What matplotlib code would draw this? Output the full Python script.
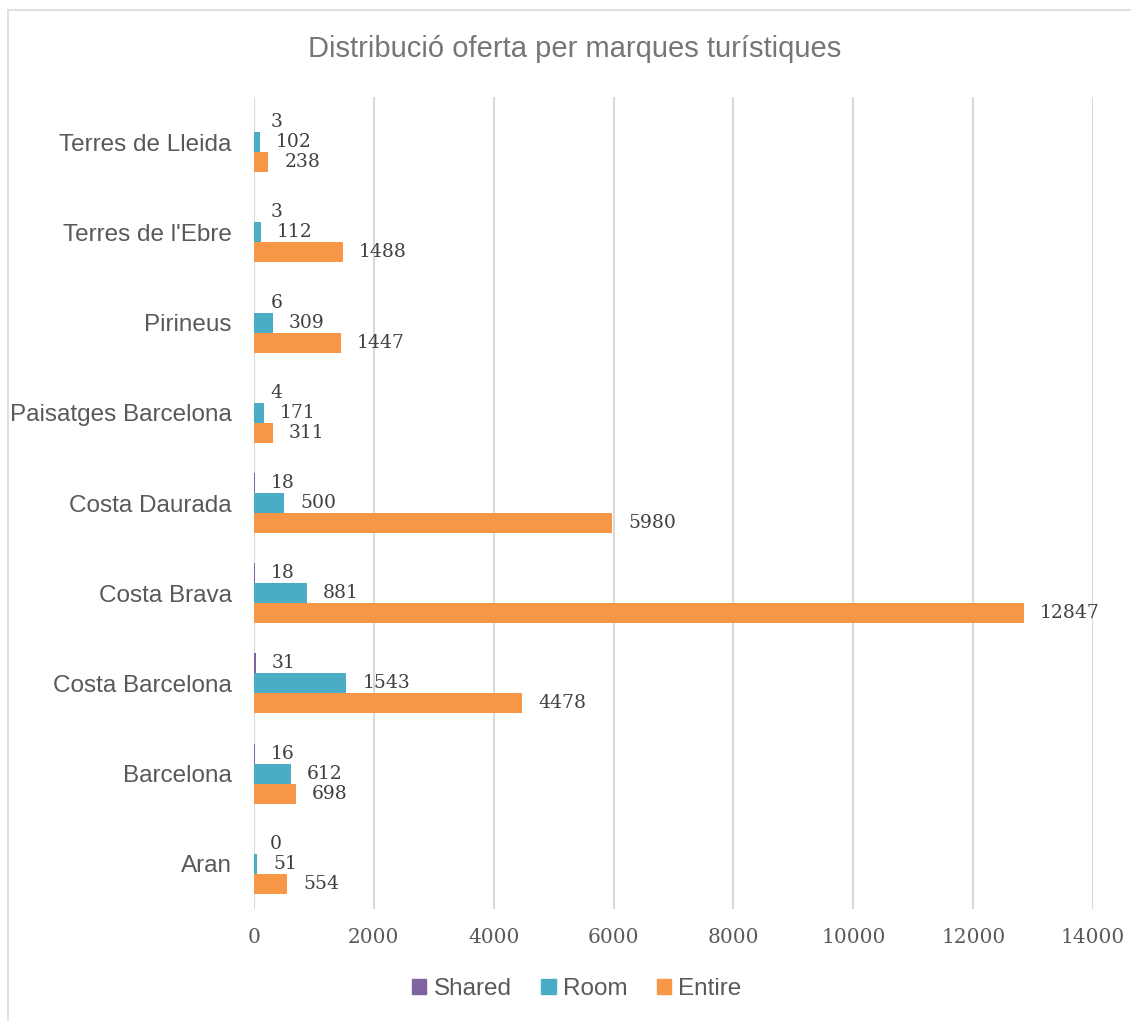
import matplotlib.pyplot as plt
import numpy as np
from matplotlib.lines import Line2D
from matplotlib.patches import Patch

cats = ["Aran", "Barcelona", "Costa Barcelona", "Costa Brava", "Costa Daurada",
        "Paisatges Barcelona", "Pirineus", "Terres de l'Ebre", "Terres de Lleida"]
shared = [0, 16, 31, 18, 18, 4, 6, 3, 3]
room = [51, 612, 1543, 881, 500, 171, 309, 112, 102]
entire = [554, 698, 4478, 12847, 5980, 311, 1447, 1488, 238]

c_shared = "#8064A2"
c_room = "#4BACC6"
c_entire = "#F79646"

fig = plt.figure(figsize=(11.31, 10.21), dpi=100)
ax = fig.add_axes([254/1131, 1-909/1021, (1093-254)/1131, (909-97)/1021])

y = np.arange(len(cats))
h = 0.222
series = [(shared, c_shared, h), (room, c_room, 0), (entire, c_entire, -h)]
for vals, col, off in series:
    bars = ax.barh(y + off, vals, height=h, color=col, zorder=3)
    for b, v in zip(bars, vals):
        ax.annotate(str(v), (b.get_width(), b.get_y() + b.get_height()/2),
                    xytext=(11.5, 0), textcoords="offset points",
                    ha="left", va="center", family="DejaVu Serif",
                    fontsize=13.5, color="#404040")

ax.set_xlim(0, 14000)
ax.set_ylim(-0.5, len(cats) - 0.5)
ax.set_xticks(range(0, 14001, 2000))
ax.set_yticks(y)
ax.set_yticklabels(cats, family="Liberation Sans", fontsize=17.5, color="#595959")
for t in ax.get_xticklabels():
    t.set_family("DejaVu Serif")
    t.set_fontsize(14.5)
    t.set_color("#595959")
ax.tick_params(axis="x", length=0, pad=14)
ax.tick_params(axis="y", length=0, pad=16)
ax.grid(axis="x", color="#D9D9D9", linewidth=1.5, zorder=0)
for s in ax.spines.values():
    s.set_visible(False)

fig.text(0.508, 1-49/1021, "Distribució oferta per marques turístiques",
         ha="center", va="center", family="Liberation Sans", fontsize=21,
         color="#767676")

handles = [Patch(color=c_shared), Patch(color=c_room), Patch(color=c_entire)]
leg = fig.legend(handles, ["Shared", "Room", "Entire"], loc="center",
                 bbox_to_anchor=(0.51, 1-989/1021), ncol=3, frameon=False,
                 handlelength=0.6, handleheight=0.6, handletextpad=0.3,
                 columnspacing=1.2, prop={"family": "Liberation Sans", "size": 17.5})
for t in leg.get_texts():
    t.set_color("#595959")

# chart border (top and left visible)
fig.add_artist(Line2D([8/1131, 1], [1-10/1021, 1-10/1021], transform=fig.transFigure,
                      color="#D9D9D9", linewidth=1.2))
fig.add_artist(Line2D([8/1131, 8/1131], [0, 1-10/1021], transform=fig.transFigure,
                      color="#D9D9D9", linewidth=1.2))

fig.savefig("out.png", dpi=100, facecolor="white")
